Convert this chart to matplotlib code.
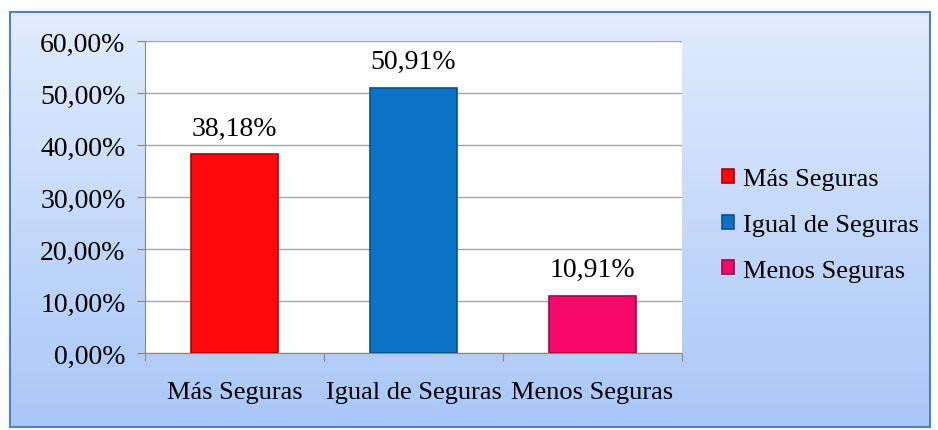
import numpy as np
import matplotlib.pyplot as plt
from matplotlib.patches import Rectangle

plt.rcParams['font.family'] = ['Liberation Serif', 'DejaVu Serif']

# datos del grafico
categorias = ["Más Seguras", "Igual de Seguras", "Menos Seguras"]
valores = [38.18, 50.91, 10.91]
etiquetas = ["38,18%", "50,91%", "10,91%"]
colores = ["#fe0a0a", "#0a74c6", "#f5086a"]
bordes = ["#b00000", "#0a4f88", "#a80048"]
ticks_y = [0, 10, 20, 30, 40, 50, 60]

fig = plt.figure(figsize=(9.38, 4.31), dpi=100)

# fondo con degradado (blanco azulado arriba, azul claro abajo)
bg = fig.add_axes([0, 0, 1, 1], zorder=-10)
grad = np.linspace(0, 1, 256).reshape(-1, 1)
c_top = np.array([0.89, 0.93, 0.99])
c_bot = np.array([0.66, 0.78, 0.97])
img = c_top + (c_bot - c_top) * grad[:, :, None]
bg.add_patch(Rectangle((0, 0), 1, 1, facecolor='white', zorder=-1))
marco = Rectangle((10 / 938, 3 / 431), 920 / 938, 415 / 431, transform=fig.transFigure)
im = bg.imshow(img, aspect='auto', extent=[0, 1, 0, 1], origin='upper', zorder=0)
im.set_clip_path(marco)
bg.add_patch(Rectangle((10 / 938, 3 / 431), 920 / 938, 415 / 431, fill=False,
                       edgecolor='#4f81bd', linewidth=1.5, transform=fig.transFigure))
bg.set_xlim(0, 1)
bg.set_ylim(0, 1)
bg.axis('off')

# zona del grafico
ax = fig.add_axes([145 / 938, (431 - 354) / 431, (682 - 145) / 938, (354 - 42) / 431])
ax.set_facecolor('white')
x = np.arange(len(categorias))
barras = ax.bar(x, valores, width=0.49, color=colores, edgecolor=bordes,
                linewidth=1.2, zorder=3, label=categorias)

for xi, v, t in zip(x, valores, etiquetas):
    ax.annotate(t, (xi, v), xytext=(0, 19), textcoords='offset points',
                ha='center', va='center', fontsize=20)

ax.set_xlim(-0.5, 2.5)
ax.set_ylim(0, 60)
ax.set_yticks(ticks_y)
ax.set_yticklabels([f"{t},00%" for t in ticks_y], fontsize=20)
ax.set_xticks([-0.5, 0.5, 1.5, 2.5], minor=False)
ax.set_xticklabels([])
ax.set_xticks(x, minor=True)
ax.set_xticklabels(categorias, minor=True, fontsize=19)
ax.tick_params(axis='x', which='minor', length=0, pad=20)
ax.tick_params(axis='x', which='major', length=6, color='#888888')
ax.tick_params(axis='y', length=6, color='#888888', pad=8)
ax.grid(axis='y', color='#a6a6a6', linewidth=1, zorder=0)
for s in ['top', 'right']:
    ax.spines[s].set_visible(False)
for s in ['left', 'bottom']:
    ax.spines[s].set_color('#888888')

leg = fig.legend(handles=barras.patches, labels=categorias, loc='center left',
                 bbox_to_anchor=(698 / 938, (431 - 226) / 431), frameon=False,
                 fontsize=19, handlelength=0.45, handleheight=0.45,
                 handletextpad=0.35, labelspacing=0.9)

fig.savefig('out.png', dpi=100)
